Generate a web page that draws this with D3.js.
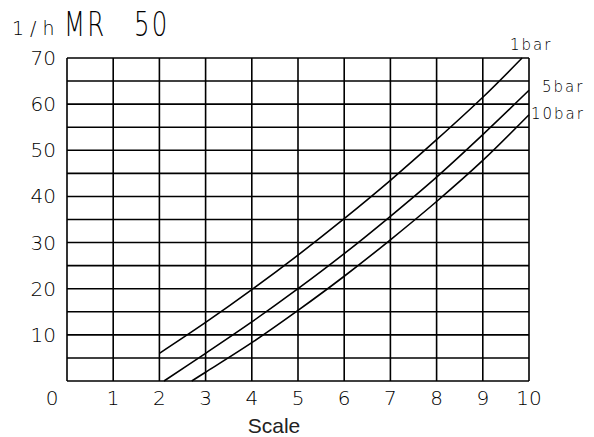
<!DOCTYPE html>
<html>
<head>
<meta charset="utf-8">
<script src="https://cdn.jsdelivr.net/npm/d3@7"></script>
<style>
  body { margin: 0; background: #fff; }
  svg { display: block; }
  .tick-label { font-family: "DejaVu Sans", sans-serif; font-weight: 200; font-size: 20px; fill: #000; }
  .curve-label { font-family: "DejaVu Sans", sans-serif; font-weight: 200; font-size: 15px; fill: #000; letter-spacing: 2px; }
  .title { font-family: "DejaVu Sans", sans-serif; font-weight: 200; font-size: 33px; fill: #000; letter-spacing: 3px; }
</style>
</head>
<body>
<svg></svg>
<script>
// values
let xTicks = [0, 1, 2, 3, 4, 5, 6, 7, 8, 9, 10]
let yTicks = [10, 20, 30, 40, 50, 60, 70]
let yGrid = [0, 5, 10, 15, 20, 25, 30, 35, 40, 45, 50, 55, 60, 65, 70]
let seriesNames = ["1bar", "5bar", "10bar"]
let titleParts = ["MR", "50"]
let bar1 = [[2, 6], [3, 12.7], [4, 19.8], [5, 27.3], [6, 35.2], [7, 43.5], [8, 52.3], [9, 61.5], [9.85, 70]]
let bar5 = [[2.1, 0], [3, 6], [4, 12.8], [5, 20], [6, 27.6], [7, 35.7], [8, 44.2], [9, 53.4], [10, 63]]
let bar10 = [[2.7, 0], [3, 1.9], [4, 8.3], [5, 15.3], [6, 22.7], [7, 30.6], [8, 38.9], [9, 47.8], [10, 57.7]]

let dims = { width: 594, height: 437, left: 67, right: 529, top: 58, bottom: 381 }

let svg = d3.select("svg").attr("width", dims.width).attr("height", dims.height)

let x = d3.scaleLinear().domain([0, 10]).range([dims.left, dims.right])
let y = d3.scaleLinear().domain([0, 70]).range([dims.bottom, dims.top])

// grid
let grid = svg.append("g").attr("stroke", "#000").attr("stroke-width", 1.6)
grid.selectAll("line.v").data(xTicks).enter().append("line")
    .attr("x1", d => x(d)).attr("x2", d => x(d))
    .attr("y1", y(0)).attr("y2", y(70))
grid.selectAll("line.h").data(yGrid).enter().append("line")
    .attr("x1", x(0)).attr("x2", x(10))
    .attr("y1", d => y(d)).attr("y2", d => y(d))

// tick labels
svg.append("g").selectAll("text").data(xTicks).enter().append("text")
    .attr("class", "tick-label")
    .attr("x", d => d == 0 ? x(d) - 15 : x(d))
    .attr("y", 405)
    .attr("text-anchor", "middle")
    .text(d => d)
svg.append("g").selectAll("text").data(yTicks).enter().append("text")
    .attr("class", "tick-label")
    .attr("x", x(0) - 11)
    .attr("y", d => y(d) + 7)
    .attr("text-anchor", "end")
    .text(d => d)

// curves
let line = d3.line()
    .x(d => x(d[0]))
    .y(d => y(d[1]))
    .curve(d3.curveCatmullRom)
let series = [bar1, bar5, bar10]
svg.append("g").selectAll("path").data(series).enter().append("path")
    .attr("d", line)
    .attr("fill", "none")
    .attr("stroke", "#000")
    .attr("stroke-width", 1.6)

// curve labels
let labelPos = [[510, 50], [542, 92], [531, 119]]
svg.append("g").selectAll("text").data(seriesNames).enter().append("text")
    .attr("class", "curve-label")
    .attr("x", (d, i) => labelPos[i][0])
    .attr("y", (d, i) => labelPos[i][1])
    .text(d => d)

// title
svg.append("text")
    .attr("x", 12).attr("y", 35)
    .attr("font-family", "DejaVu Sans, sans-serif")
    .attr("font-weight", 200)
    .attr("font-size", 19)
    .attr("letter-spacing", 6)
    .text("1/h")
let titleX = [64, 134]
svg.append("g").selectAll("text").data(titleParts).enter().append("text")
    .attr("class", "title")
    .attr("transform", (d, i) => `translate(${titleX[i]},36) scale(0.74,1)`)
    .text(d => d)

// axis title
svg.append("text")
    .attr("x", 274).attr("y", 433)
    .attr("text-anchor", "middle")
    .attr("font-family", "Liberation Sans, Arial, sans-serif")
    .attr("font-size", 21)
    .attr("fill", "#222")
    .text("Scale")
</script>
</body>
</html>
